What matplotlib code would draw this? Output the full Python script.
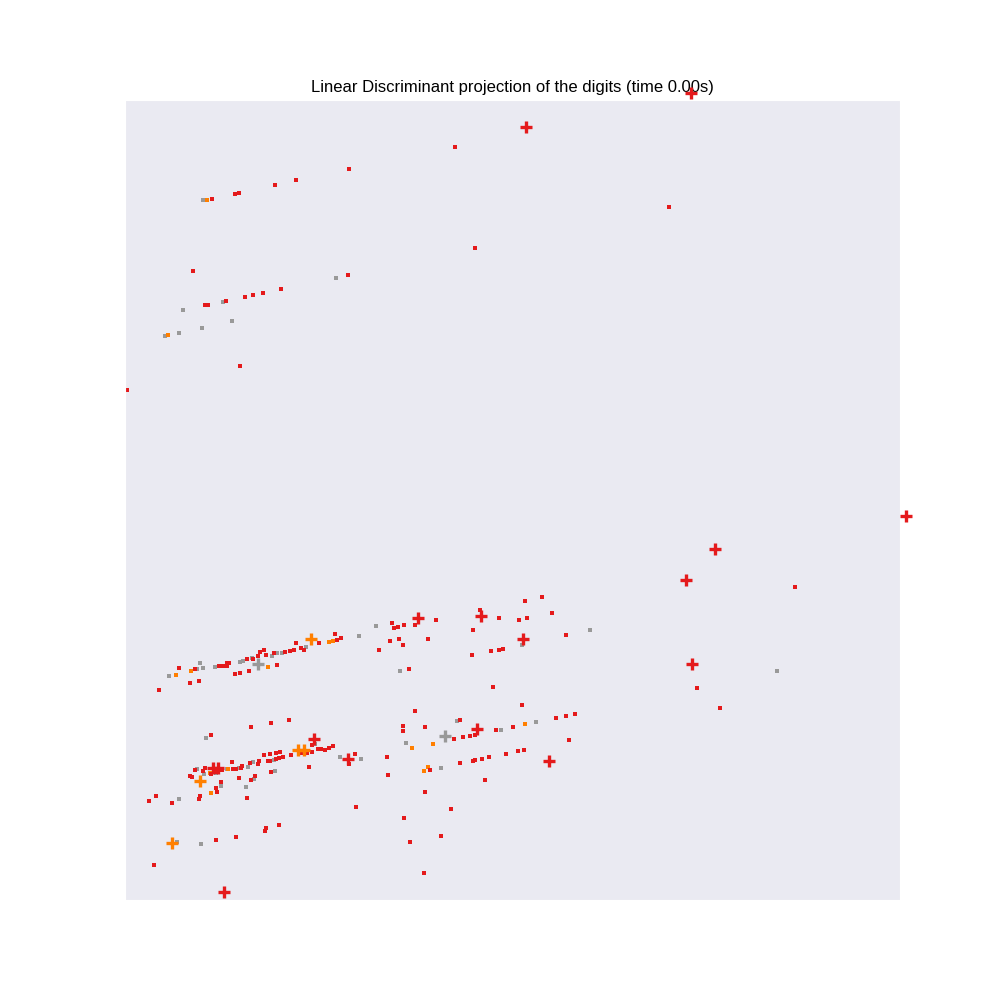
import matplotlib
matplotlib.use("Agg")
import matplotlib.pyplot as plt
import seaborn as sns

sns.set_style("darkgrid")
plt.rcParams['font.family'] = ['Liberation Sans', 'DejaVu Sans']

# Projected positions (x to the right, y downwards)
red_small = [
    (455, 147), (349, 169), (296, 180), (275, 185), (239, 193), (235, 194), (212, 199),
    (669, 207), (475, 248), (193, 271), (348, 275), (281, 289), (263, 293), (253, 295),
    (245, 297), (226, 301), (208, 305), (205, 305), (240, 366), (127, 390),
    (795, 587), (697, 688), (720, 708),
    (335, 634), (341, 638), (337, 640), (319, 643), (296, 643), (301, 648), (304, 650),
    (294, 650), (290, 651), (285, 652), (274, 653), (264, 650), (260, 652), (266, 655),
    (258, 656), (253, 659), (247, 659), (229, 663), (227, 663), (227, 666), (223, 666),
    (219, 666), (195, 669), (179, 668), (199, 681), (190, 683), (159, 690), (277, 665),
    (249, 671), (240, 673), (235, 674),
    (392, 623), (394, 628), (398, 627), (404, 625), (415, 625), (436, 620), (390, 641),
    (399, 639), (403, 645), (379, 650), (428, 639), (409, 669), (473, 630), (480, 610),
    (499, 618), (519, 620), (527, 618), (525, 601), (542, 597), (552, 613), (566, 635),
    (472, 655), (491, 651), (499, 650), (503, 649), (493, 687),
    (251, 727), (271, 723), (289, 720), (211, 735), (232, 762), (264, 755), (270, 754),
    (276, 753), (280, 752), (283, 757), (279, 758), (276, 759), (270, 761), (268, 761),
    (291, 755), (312, 752), (318, 749), (321, 749), (325, 750), (329, 748), (333, 746),
    (312, 745), (302, 753), (307, 753), (355, 754), (349, 764), (309, 767), (259, 761),
    (250, 763), (258, 764), (242, 766), (241, 768), (236, 769), (233, 769), (222, 770),
    (218, 771), (211, 774), (203, 771), (205, 768), (195, 770), (190, 776), (192, 777),
    (221, 782), (216, 788), (217, 792), (216, 772), (239, 778), (251, 780), (255, 776),
    (271, 772), (247, 798), (200, 796), (199, 799), (156, 796),
    (149, 801), (172, 803), (356, 807), (279, 825), (266, 828), (265, 831), (236, 837),
    (216, 840), (154, 865),
    (522, 705), (575, 714), (566, 716), (556, 718), (513, 727), (496, 730), (569, 740),
    (415, 711), (460, 720), (403, 726), (403, 731), (425, 727), (454, 739), (463, 737),
    (470, 736), (475, 735), (387, 757), (506, 754), (518, 751), (524, 750), (489, 757),
    (482, 759), (475, 760), (473, 761), (460, 763), (430, 770), (388, 775), (485, 780),
    (425, 792), (451, 809), (404, 818), (441, 836), (410, 842), (424, 873),
]
grey_small = [
    (203, 200), (336, 278), (223, 302), (183, 310), (232, 321), (202, 328), (179, 333),
    (165, 336), (777, 671),
    (359, 636), (306, 647), (282, 653), (277, 653), (272, 656), (252, 658), (243, 661),
    (240, 662), (215, 667), (203, 668), (200, 663), (197, 669), (169, 676),
    (376, 626), (400, 671), (590, 630), (522, 645),
    (206, 738), (274, 760), (315, 744), (340, 757), (361, 759), (253, 762), (248, 767),
    (239, 768), (227, 769), (216, 773), (197, 769), (204, 774), (221, 786), (254, 779),
    (275, 771), (246, 787), (179, 799), (201, 844), (177, 842),
    (536, 722), (501, 730), (457, 721), (406, 743), (441, 768),
]
orange_small = [
    (207, 200), (168, 335), (329, 642), (333, 641), (191, 671), (176, 675), (268, 667),
    (228, 769), (210, 773), (211, 793), (525, 724), (433, 744), (412, 748), (428, 767),
    (424, 771),
]
red_plus = [
    (526, 127), (691, 93), (906, 516), (715, 549), (686, 580), (692, 664), (418, 618),
    (481, 616), (523, 639), (314, 739), (348, 759), (477, 729), (549, 761), (224, 892),
    (213, 768), (218, 768),
]
grey_plus = [(258, 664), (445, 736)]
orange_plus = [(311, 639), (298, 750), (304, 750), (200, 781), (172, 843)]

colours = {'red': '#e41a1c', 'grey': '#999999', 'orange': '#ff7f00'}

fig = plt.figure(figsize=(10, 10), dpi=100)
ax = fig.add_axes([0.125, 0.1, 0.775, 0.8])

for pts, c in [(grey_small, 'grey'), (orange_small, 'orange'), (red_small, 'red')]:
    xs, ys = zip(*pts)
    ax.plot(xs, ys, 's', color=colours[c], markersize=2.3, markeredgewidth=0,
            linestyle='none')

for pts, c in [(grey_plus, 'grey'), (orange_plus, 'orange'), (red_plus, 'red')]:
    xs, ys = zip(*pts)
    ax.plot(xs, ys, '+', color=colours[c], markersize=8.5, markeredgewidth=2.4,
            linestyle='none', clip_on=False, zorder=5)

ax.set_xlim(125, 900)
ax.set_ylim(900, 100)
ax.set_xticks([])
ax.set_yticks([])
ax.set_title('Linear Discriminant projection of the digits (time 0.00s)', fontsize=12,
             color='black')

fig.savefig('out.png', dpi=100)
